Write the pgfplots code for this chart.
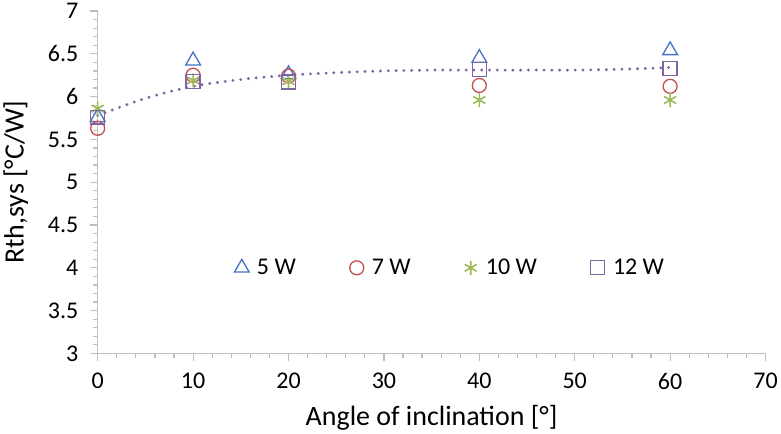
\documentclass[border=0pt]{standalone}
\usepackage{pgfplots}
\pgfplotsset{compat=1.18}
\usepackage{fontspec}
\setmainfont{Carlito}
\definecolor{cA}{RGB}{68,114,196}
\definecolor{cB}{RGB}{192,80,77}
\definecolor{cC}{RGB}{155,187,89}
\definecolor{cD}{RGB}{128,100,162}
\definecolor{ax}{RGB}{191,191,191}
\begin{document}
\begin{tikzpicture}
\begin{axis}[
  scale only axis,
  width=669pt, height=343pt,
  xmin=0, xmax=70, ymin=3, ymax=7,
  xtick={0,10,...,70}, ytick={3,3.5,...,7},
  minor x tick num=4, minor y tick num=4,
  axis x line*=bottom, axis y line*=left,
  axis line style={ax, line width=1.5pt},
  every tick/.style={ax, line width=1.2pt},
  major tick length=8pt, minor tick length=5pt,
  tick align=outside,
  /pgf/number format/assume math mode=true,
  tick label style={font=\fontsize{24}{28}\selectfont},
  yticklabel style={xshift=-8pt, /pgf/number format/.cd, fixed, precision=1},
  xticklabel style={yshift=-8pt},
  xlabel={Angle of inclination [°]},
  ylabel={Rth,sys [°C/W]},
  label style={font=\fontsize{28}{32}\selectfont},
  xlabel style={yshift=-9pt},
  ylabel style={yshift=13pt},
  legend style={at={(0.2,0.25)}, anchor=west, draw=none, fill=none,
    font=\fontsize{24}{28}\selectfont, legend columns=4,
    /tikz/every even column/.append style={column sep=52pt}},
  legend cell align=left,
  legend image code/.code={\draw[#1] plot coordinates {(0.3cm,0cm)}; \path (0.3cm+13pt,0pt);},
  clip=false,
]
\addplot[only marks, mark=triangle, mark size=8.5pt, mark options={cA, line width=1.3pt}] coordinates {(0,5.76)(10,6.42)(20,6.26)(40,6.45)(60,6.54)};
\addlegendentry{5 W}
\addplot[only marks, mark=o, mark size=7pt, mark options={cB, line width=1.3pt}] coordinates {(0,5.63)(10,6.25)(20,6.24)(40,6.13)(60,6.12)};
\addlegendentry{7 W}
\addplot[only marks, mark=asterisk, mark size=7pt, mark options={cC, line width=1.6pt}] coordinates {(0,5.86)(10,6.19)(20,6.18)(40,5.96)(60,5.96)};
\addlegendentry{10 W}
\addplot[only marks, mark=square, mark size=7pt, mark options={cD, line width=1.3pt}] coordinates {(0,5.76)(10,6.18)(20,6.17)(40,6.32)(60,6.33)};
\addlegendentry{12 W}
\addplot[cD, line width=3.2pt, line cap=round, dash pattern=on 0pt off 7.8pt, smooth, forget plot] coordinates {(0,5.78)(5,5.98)(10,6.12)(15,6.20)(20,6.25)(25,6.28)(30,6.30)(35,6.31)(40,6.31)(45,6.31)(50,6.31)(55,6.32)(60,6.34)};
\end{axis}
\end{tikzpicture}
\end{document}
